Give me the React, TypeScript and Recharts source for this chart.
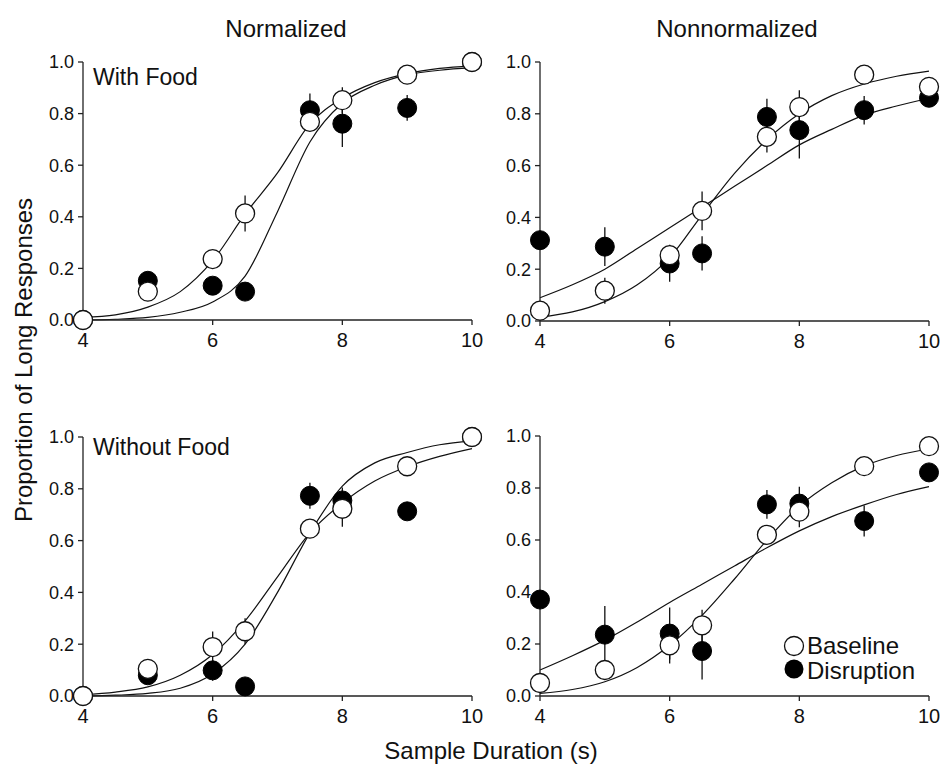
import { ComposedChart, Line, Scatter, XAxis, YAxis, ErrorBar } from "recharts"

const FONT = '"Liberation Sans", Arial, Helvetica, sans-serif'

// sample durations (s) where the points sit
const durations = [4, 5, 6, 6.5, 7.5, 8, 9, 10]
const curveX = [4, 4.5, 5, 5.5, 6, 6.5, 7, 7.5, 8, 8.5, 9, 9.5, 10]

const xTicks = [4, 6, 8, 10]
const yTicks = [0, 0.2, 0.4, 0.6, 0.8, 1.0]

// Normalized, With Food
const nfBase = [0, 0.11, 0.236, 0.413, 0.768, 0.852, 0.951, 1.0]
const nfBaseErr = [0, 0.035, 0.03, 0.07, 0.03, 0.05, 0.02, 0]
const nfDis = [0, 0.152, 0.133, 0.11, 0.813, 0.761, 0.822, 1.0]
const nfDisErr = [0, 0.03, 0.02, 0.02, 0.065, 0.09, 0.05, 0]
const nfBaseCurve = [0.01, 0.02, 0.05, 0.11, 0.23, 0.41, 0.57, 0.76, 0.86, 0.92, 0.955, 0.975, 0.985]
const nfDisCurve = [0.0, 0.003, 0.01, 0.03, 0.07, 0.17, 0.42, 0.69, 0.84, 0.91, 0.95, 0.968, 0.978]

// Nonnormalized, With Food
const nnfBase = [0.04, 0.117, 0.254, 0.425, 0.711, 0.826, 0.951, 0.904]
const nnfBaseErr = [0.02, 0.05, 0.04, 0.075, 0.06, 0.065, 0.02, 0.02]
const nnfDis = [0.312, 0.287, 0.222, 0.261, 0.788, 0.737, 0.814, 0.862]
const nnfDisErr = [0.03, 0.075, 0.07, 0.066, 0.07, 0.11, 0.055, 0.02]
const nnfBaseCurve = [0.015, 0.035, 0.075, 0.14, 0.245, 0.41, 0.57, 0.7, 0.8, 0.87, 0.915, 0.945, 0.965]
const nnfDisCurve = [0.09, 0.14, 0.2, 0.28, 0.36, 0.44, 0.52, 0.6, 0.68, 0.74, 0.795, 0.83, 0.86]

// Normalized, Without Food
const nwBase = [0, 0.105, 0.189, 0.25, 0.646, 0.723, 0.887, 1.0]
const nwBaseErr = [0, 0.03, 0.06, 0.05, 0.03, 0.07, 0.02, 0]
const nwDis = [0, 0.08, 0.099, 0.037, 0.773, 0.755, 0.713, 1.0]
const nwDisErr = [0, 0.02, 0.04, 0.02, 0.05, 0.05, 0.02, 0]
const nwBaseCurve = [0.005, 0.015, 0.035, 0.08, 0.16, 0.29, 0.46, 0.63, 0.745, 0.83, 0.885, 0.925, 0.955]
const nwDisCurve = [0.0, 0.003, 0.01, 0.03, 0.085, 0.2, 0.4, 0.63, 0.81, 0.9, 0.94, 0.97, 0.985]

// Nonnormalized, Without Food
const nnwBase = [0.05, 0.1, 0.195, 0.272, 0.62, 0.709, 0.884, 0.961]
const nnwBaseErr = [0.02, 0.03, 0.07, 0.06, 0.03, 0.06, 0.02, 0.02]
const nnwDis = [0.371, 0.236, 0.24, 0.173, 0.737, 0.74, 0.673, 0.86]
const nnwDisErr = [0.03, 0.11, 0.1, 0.11, 0.055, 0.065, 0.06, 0.02]
const nnwBaseCurve = [0.01, 0.025, 0.055, 0.11, 0.195, 0.31, 0.45, 0.6, 0.73, 0.82, 0.885, 0.925, 0.95]
const nnwDisCurve = [0.1, 0.155, 0.215, 0.285, 0.36, 0.43, 0.5, 0.57, 0.635, 0.69, 0.735, 0.775, 0.805]

const points = (ys: number[], errs: number[]) =>
  durations.map((x, i) => ({ x, y: ys[i], e: errs[i] }))
const curve = (ys: number[]) => curveX.map((x, i) => ({ x, y: ys[i] }))

const OpenDot = (props: any) => (
  <circle cx={props.cx} cy={props.cy} r={9.5} fill="#fff" stroke="#111" strokeWidth={1.3} />
)
const FilledDot = (props: any) => (
  <circle cx={props.cx} cy={props.cy} r={9.5} fill="#000" stroke="#000" strokeWidth={1} />
)

type Box = { left: number; top: number; right: number; bottom: number }

const Panel = ({ box, base, baseErr, dis, disErr, baseCurve, disCurve }: {
  box: Box
  base: number[]
  baseErr: number[]
  dis: number[]
  disErr: number[]
  baseCurve: number[]
  disCurve: number[]
}) => {
  const w = box.right - box.left + 60 + 30
  const h = box.bottom - box.top + 30 + 40
  return (
    <div style={{ position: "absolute", left: box.left - 60, top: box.top - 30 }}>
      <ComposedChart width={w} height={h} margin={{ top: 30, right: 30, bottom: 0, left: 0 }}>
        <XAxis
          dataKey="x"
          type="number"
          domain={[4, 10]}
          ticks={xTicks}
          tickSize={5}
          tickMargin={8}
          height={40}
          stroke="#222"
          strokeWidth={1.3}
          tick={{ fill: "#111", fontSize: 20, fontFamily: FONT }}
        />
        <YAxis
          dataKey="y"
          type="number"
          domain={[0, 1]}
          ticks={yTicks}
          tickFormatter={(v: number) => v.toFixed(1)}
          tickSize={5}
          tickMargin={4}
          width={60}
          stroke="#222"
          strokeWidth={1.3}
          tick={{ fill: "#111", fontSize: 18, fontFamily: FONT }}
        />
        <Line data={curve(baseCurve)} dataKey="y" type="monotone" dot={false} stroke="#111" strokeWidth={1.2} isAnimationActive={false} />
        <Line data={curve(disCurve)} dataKey="y" type="monotone" dot={false} stroke="#111" strokeWidth={1.2} isAnimationActive={false} />
        <Scatter data={points(dis, disErr)} dataKey="y" shape={FilledDot} isAnimationActive={false}>
          <ErrorBar dataKey="e" direction="y" width={0} stroke="#111" strokeWidth={1.3} />
        </Scatter>
        <Scatter data={points(base, baseErr)} dataKey="y" shape={OpenDot} isAnimationActive={false}>
          <ErrorBar dataKey="e" direction="y" width={0} stroke="#111" strokeWidth={1.3} />
        </Scatter>
      </ComposedChart>
    </div>
  )
}

export default function App() {
  return (
    <div style={{ position: "absolute", left: 0, top: 0, width: 942, height: 764, background: "#fff", fontFamily: FONT }}>
      <Panel box={{ left: 83, top: 62, right: 472, bottom: 320 }} base={nfBase} baseErr={nfBaseErr} dis={nfDis} disErr={nfDisErr} baseCurve={nfBaseCurve} disCurve={nfDisCurve} />
      <Panel box={{ left: 540, top: 62, right: 929, bottom: 321 }} base={nnfBase} baseErr={nnfBaseErr} dis={nnfDis} disErr={nnfDisErr} baseCurve={nnfBaseCurve} disCurve={nnfDisCurve} />
      <Panel box={{ left: 83, top: 437, right: 472, bottom: 696 }} base={nwBase} baseErr={nwBaseErr} dis={nwDis} disErr={nwDisErr} baseCurve={nwBaseCurve} disCurve={nwDisCurve} />
      <Panel box={{ left: 540, top: 436, right: 929, bottom: 696 }} base={nnwBase} baseErr={nnwBaseErr} dis={nnwDis} disErr={nnwDisErr} baseCurve={nnwBaseCurve} disCurve={nnwDisCurve} />
      <svg width={942} height={764} style={{ position: "absolute", left: 0, top: 0, pointerEvents: "none" }}>
        <g fontFamily={FONT} fill="#111">
          <text x={286} y={37} fontSize={24} textAnchor="middle">Normalized</text>
          <text x={737} y={37} fontSize={24} textAnchor="middle">Nonnormalized</text>
          <text x={93} y={85} fontSize={23}>With Food</text>
          <text x={93} y={455} fontSize={23}>Without Food</text>
          <text x={491} y={759} fontSize={24} textAnchor="middle">Sample Duration (s)</text>
          <text x={32} y={360} fontSize={24} textAnchor="middle" transform="rotate(-90 32 360)">Proportion of Long Responses</text>
          <circle cx={794} cy={646} r={9.5} fill="#fff" stroke="#111" strokeWidth={1.3} />
          <circle cx={794} cy={669} r={9.5} fill="#000" />
          <text x={807} y={654} fontSize={24}>Baseline</text>
          <text x={807} y={679} fontSize={24}>Disruption</text>
        </g>
      </svg>
    </div>
  )
}
